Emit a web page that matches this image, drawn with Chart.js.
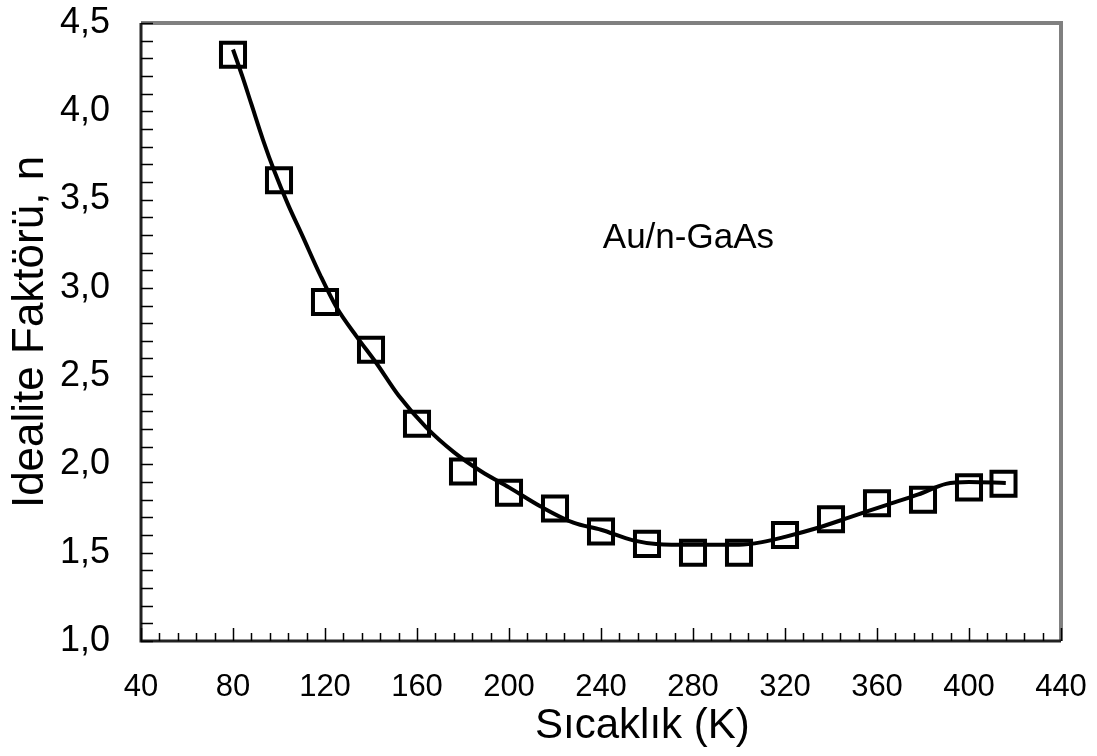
<!DOCTYPE html>
<html>
<head>
<meta charset="utf-8">
<script src="https://cdn.jsdelivr.net/npm/chart.js@4.4.1/dist/chart.umd.min.js"></script>
<style>
  html, body { margin: 0; padding: 0; background: #fff; }
  #wrap { width: 1097px; height: 756px; }
</style>
</head>
<body>
<div id="wrap"><canvas id="chart" width="1097" height="756"></canvas></div>
<script>
// measured points (squares)
const temps = [80, 100, 120, 140, 160, 180, 200, 220, 240, 260, 280, 300, 320, 340, 360, 380, 400, 415];
const idealityN = [4.32, 3.61, 2.92, 2.65, 2.23, 1.96, 1.84, 1.75, 1.62, 1.55, 1.50, 1.50, 1.60, 1.69, 1.78, 1.80, 1.87, 1.89];

// fitted curve
const fitT = [80, 84, 88, 93, 98, 104, 110, 118, 125, 134, 142, 152, 164, 176, 188, 200, 214, 228, 240, 254, 264, 280, 300, 310, 320, 334, 348, 364, 378, 390, 400, 416];
const fitN = [4.35, 4.20, 4.04, 3.84, 3.66, 3.47, 3.30, 3.07, 2.89, 2.72, 2.58, 2.39, 2.21, 2.07, 1.96, 1.87, 1.76, 1.67, 1.63, 1.57, 1.55, 1.545, 1.545, 1.56, 1.59, 1.64, 1.70, 1.77, 1.83, 1.89, 1.90, 1.895];

const xTicks = [40, 80, 120, 160, 200, 240, 280, 320, 360, 400, 440];
const yTicks = [1.0, 1.5, 2.0, 2.5, 3.0, 3.5, 4.0, 4.5];
const sampleLabel = 'Au/n-GaAs';
const xTitle = 'Sıcaklık (K)';

const FONT = "'Liberation Sans', Arial, sans-serif";

// frame, inward ticks, x title and the sample label
const frameTicks = {
  id: 'frameTicks',
  beforeDatasetsDraw(chart) {
    const { ctx, chartArea: a, scales: { x, y } } = chart;
    ctx.save();
    // top / right border (grey)
    ctx.strokeStyle = '#808080';
    ctx.lineWidth = 4;
    ctx.beginPath();
    ctx.moveTo(a.left, a.top);
    ctx.lineTo(a.right, a.top);
    ctx.lineTo(a.right, a.bottom);
    ctx.stroke();
    // left / bottom axes
    ctx.strokeStyle = '#222';
    ctx.lineWidth = 3;
    ctx.beginPath();
    ctx.moveTo(a.left, a.top);
    ctx.lineTo(a.left, a.bottom);
    ctx.lineTo(a.right, a.bottom);
    ctx.stroke();

    ctx.lineWidth = 1.5;
    ctx.strokeStyle = '#000';
    ctx.beginPath();
    for (let v = 40; v <= 440; v += 8) {
      const px = Math.round(x.getPixelForValue(v)) + 0.5;
      const len = (v % 40 === 0) ? 13 : 8;
      ctx.moveTo(px, a.bottom);
      ctx.lineTo(px, a.bottom - len);
    }
    for (let i = 0; i <= 35; i++) {
      const py = Math.round(y.getPixelForValue(1 + i * 0.1)) + 0.5;
      ctx.moveTo(a.left, py);
      ctx.lineTo(a.left + 12, py);
    }
    ctx.stroke();

    ctx.fillStyle = '#000';
    ctx.textAlign = 'center';
    ctx.textBaseline = 'middle';
    ctx.font = '35px ' + FONT;
    ctx.fillText(sampleLabel, x.getPixelForValue(278), y.getPixelForValue(3.28));
    ctx.font = '42px ' + FONT;
    ctx.fillText(xTitle, x.getPixelForValue(258), a.bottom + 85);
    ctx.restore();
  }
};

new Chart(document.getElementById('chart'), {
  type: 'scatter',
  data: {
    datasets: [
      {
        label: 'fit',
        data: fitT.map((t, i) => ({ x: t, y: fitN[i] })),
        showLine: true,
        borderColor: '#000',
        borderWidth: 4,
        pointRadius: 0,
        cubicInterpolationMode: 'monotone',
        fill: false,
      },
      {
        label: 'n',
        data: temps.map((t, i) => ({ x: t, y: idealityN[i] })),
        pointStyle: 'rect',
        pointRadius: 17,
        pointBorderWidth: 4,
        borderColor: '#000',
        backgroundColor: 'rgba(0,0,0,0)',
        showLine: false,
        clip: false,
      },
    ],
  },
  options: {
    responsive: false,
    animation: false,
    layout: { padding: { top: 23, right: 36, left: 0, bottom: 0 } },
    plugins: { legend: { display: false }, tooltip: { enabled: false } },
    scales: {
      x: {
        type: 'linear',
        min: 40,
        max: 440,
        afterBuildTicks: (s) => { s.ticks = xTicks.map(v => ({ value: v })); },
        afterFit: (s) => { s.height = 115; s.paddingLeft = 0; s.paddingRight = 0; },
        grid: { display: false, drawTicks: false },
        border: { display: false },
        ticks: { color: '#000', padding: 28, font: { family: FONT, size: 31 } },
      },
      y: {
        type: 'linear',
        min: 1,
        max: 4.5,
        afterBuildTicks: (s) => { s.ticks = yTicks.map(v => ({ value: v })); },
        afterFit: (s) => { s.width = 141; s.paddingTop = 0; s.paddingBottom = 0; },
        grid: { display: false, drawTicks: false },
        border: { display: false },
        ticks: {
          color: '#000',
          padding: 31,
          font: { family: FONT, size: 36 },
          callback: (v) => Number(v).toFixed(1).replace('.', ','),
        },
        title: {
          display: true,
          text: 'Idealite Faktörü, n',
          color: '#000',
          font: { family: FONT, size: 44 },
          padding: { top: 4, bottom: 0 },
        },
      },
    },
  },
  plugins: [frameTicks],
});
</script>
</body>
</html>
